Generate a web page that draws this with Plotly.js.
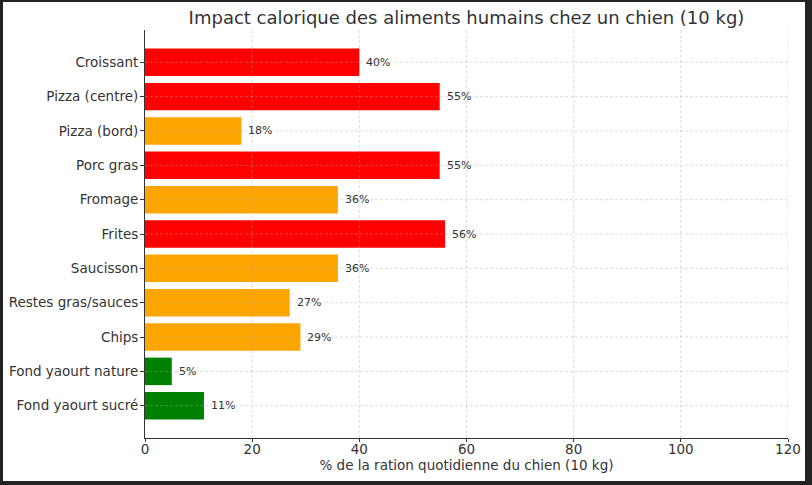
<!DOCTYPE html>
<html>
<head>
<meta charset="utf-8">
<script src="https://cdn.plot.ly/plotly-3.0.1.min.js"></script>
<style>
  html, body { margin: 0; padding: 0; background: #222222; width: 812px; height: 485px; overflow: hidden; }
  #plot { position: absolute; left: 3px; top: 2px; width: 802px; height: 479px; background: #ffffff; }
</style>
</head>
<body>
<div id="plot"></div>
<script>
// aliments et part de la ration quotidienne (%)
var aliments = ['Croissant', 'Pizza (centre)', 'Pizza (bord)', 'Porc gras', 'Fromage', 'Frites',
                'Saucisson', 'Restes gras/sauces', 'Chips', 'Fond yaourt nature', 'Fond yaourt sucré'];
var pourcent = [40, 55, 18, 55, 36, 56, 36, 27, 29, 5, 11];
var couleurs = ['red', 'red', 'orange', 'red', 'orange', 'red', 'orange', 'orange', 'orange', 'green', 'green'];
var xTicks = [0, 20, 40, 60, 80, 100, 120];

var font = 'DejaVu Sans, sans-serif';
var gridStyle = { color: 'rgba(170,170,170,0.5)', width: 0.8, dash: '3px,2px' };

var trace = {
  type: 'bar',
  orientation: 'h',
  x: pourcent,
  y: aliments,
  marker: { color: couleurs, line: { width: 0 } },
  width: 0.8,
  hoverinfo: 'x+y'
};

// etiquettes "xx%" a droite des barres
var labels = pourcent.map(function (v, i) {
  return {
    x: v, y: aliments[i], xref: 'x', yref: 'y',
    text: v + '%', showarrow: false,
    xanchor: 'left', xshift: 5,
    font: { family: font, size: 11, color: '#333333' }
  };
});

// grille pointillee au-dessus des barres (comme matplotlib)
var grid = [];
xTicks.forEach(function (t) {
  if (t === 0) return;
  grid.push({ type: 'line', layer: 'above', xref: 'x', yref: 'paper', x0: t, x1: t, y0: 0, y1: 1, line: gridStyle });
});
aliments.forEach(function (a) {
  grid.push({ type: 'line', layer: 'above', xref: 'paper', yref: 'y', x0: 0, x1: 1, y0: a, y1: a, line: gridStyle });
});

var layout = {
  title: {
    text: 'Impact calorique des aliments humains chez un chien (10 kg)',
    font: { family: font, size: 18, color: '#333333' },
    x: 0.5, xref: 'paper', y: 0.967, yanchor: 'middle'
  },
  margin: { l: 142, r: 17, t: 28, b: 43 },
  paper_bgcolor: '#ffffff',
  plot_bgcolor: '#ffffff',
  showlegend: false,
  annotations: labels,
  shapes: grid,
  xaxis: {
    range: [0, 120],
    tickvals: xTicks,
    ticks: 'outside', ticklen: 3, tickcolor: '#333333',
    ticklabelstandoff: -4,
    showline: true, linecolor: '#333333', linewidth: 1,
    showgrid: false,
    zeroline: false,
    tickfont: { family: font, size: 13.5, color: '#333333' },
    title: { text: '% de la ration quotidienne du chien (10 kg)', font: { family: font, size: 13.5, color: '#333333' }, standoff: 4 }
  },
  yaxis: {
    type: 'category',
    categoryorder: 'array', categoryarray: aliments,
    range: [10.94, -0.94],
    autorange: false,
    ticks: 'outside', ticklen: 4, tickcolor: '#333333',
    ticklabelstandoff: -1,
    showline: true, linecolor: '#333333', linewidth: 1,
    showgrid: false,
    zeroline: false,
    tickfont: { family: font, size: 13.5, color: '#333333' }
  }
};

Plotly.newPlot('plot', [trace], layout, { displayModeBar: false, staticPlot: true });
</script>
</body>
</html>
